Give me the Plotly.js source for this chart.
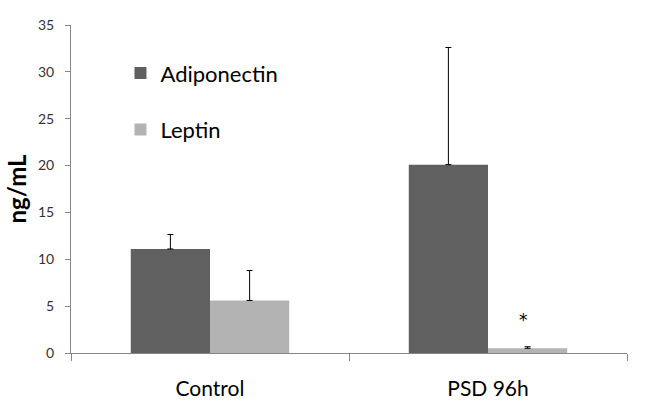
<!DOCTYPE html>
<html>
<head>
<meta charset="utf-8">
<script src="https://cdn.plot.ly/plotly-3.0.1.min.js"></script>
<style>html,body{margin:0;padding:0;background:#fff}#chart{width:650px;height:418px}</style>
</head>
<body>
<div id="chart"></div>
<script>
const categories = ["Control", "PSD 96h"];
const adiponectin = [11.1, 20.1];
const adiponectinErr = [1.55, 12.5];
const leptin = [5.6, 0.5];
const leptinErr = [3.2, 0.17];
const sigMarks = ["", "*"];
const seriesNames = ["Adiponectin", "Leptin"];
const yTicks = [0, 5, 10, 15, 20, 25, 30, 35];

const font = "Lato, 'Open Sans', sans-serif";

const traces = [
  {
    type: "bar", name: seriesNames[0], x: categories, y: adiponectin,
    marker: {color: "#606060"}, legendgroup: "a",
    error_y: {type: "data", array: adiponectinErr, symmetric: false, arrayminus: [0, 0],
      color: "#000", thickness: 1, width: 3}
  },
  {
    type: "bar", name: seriesNames[1], x: categories, y: leptin,
    marker: {color: "#b3b3b3"}, legendgroup: "b",
    error_y: {type: "data", array: leptinErr, symmetric: false, arrayminus: [0, 0],
      color: "#000", thickness: 1, width: 3}
  }
];

const annotations = [];
categories.forEach((c, i) => {
  if (sigMarks[i]) {
    annotations.push({
      x: c, y: leptin[i] + leptinErr[i] + 2.9, xref: "x", yref: "y",
      text: sigMarks[i], showarrow: false, xshift: 35,
      font: {family: "'DejaVu Sans', sans-serif", size: 17, color: "#000"}
    });
  }
});

const layout = {
  width: 650, height: 418,
  margin: {l: 71, r: 23, t: 25, b: 65},
  paper_bgcolor: "#fff", plot_bgcolor: "#fff",
  barmode: "group", bargap: 0.43, bargroupgap: 0,
  showlegend: true,
  legend: {
    x: 0.089, y: 0.917, xanchor: "left", yanchor: "top",
    bgcolor: "rgba(0,0,0,0)", traceorder: "grouped", tracegroupgap: 25,
    font: {family: font, size: 22, color: "#000"}
  },
  xaxis: {
    type: "category", showline: true, linecolor: "#868686", linewidth: 1,
    ticks: "outside", tickson: "boundaries", ticklen: 7, tickcolor: "#868686",
    ticklabelstandoff: 17,
    tickfont: {family: font, size: 21, color: "#000"},
    showgrid: false, zeroline: false
  },
  yaxis: {
    range: [0, 35], tickvals: yTicks, ticktext: yTicks.map(String),
    showline: true, linecolor: "#868686", linewidth: 1,
    ticks: "outside", ticklen: 5, tickcolor: "#868686",
    ticklabelstandoff: 8,
    tickfont: {family: font, size: 14, color: "#333"},
    showgrid: false, zeroline: false,
    title: {text: "ng/mL", font: {family: font, size: 24, color: "#000", weight: "bold"}, standoff: 4}
  },
  annotations: annotations
};

Plotly.newPlot("chart", traces, layout, {displayModeBar: false, staticPlot: true});
</script>
</body>
</html>
